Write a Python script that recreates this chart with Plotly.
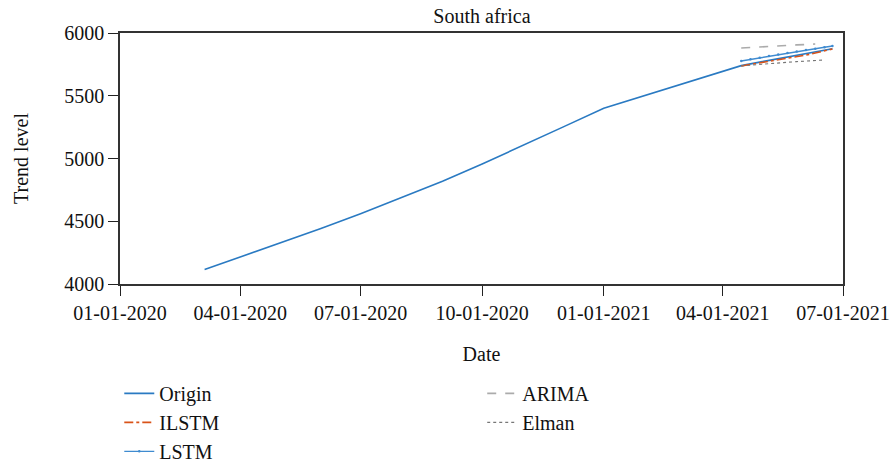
import plotly.graph_objects as go

# ---- data ----
origin_dates = ["2020-03-05", "2020-04-01", "2020-05-01", "2020-06-01", "2020-07-01",
                "2020-08-01", "2020-09-01", "2020-10-01", "2020-11-01", "2020-12-01",
                "2021-01-01", "2021-02-01", "2021-03-01", "2021-04-01", "2021-04-15",
                "2021-05-01", "2021-06-01", "2021-06-23"]
origin_values = [4115, 4215, 4321, 4442, 4560, 4688, 4818, 4956, 5103, 5250,
                 5400, 5501, 5594, 5695, 5740, 5772, 5835, 5875]

fc_dates = ["2021-04-15", "2021-04-22", "2021-04-29", "2021-05-06", "2021-05-13",
            "2021-05-20", "2021-05-27", "2021-06-03", "2021-06-10", "2021-06-17",
            "2021-06-23"]
ilstm_values = [5737, 5749, 5761, 5773, 5785, 5797, 5810, 5824, 5840, 5857, 5873]
lstm_values = [5777, 5790, 5803, 5816, 5829, 5841, 5853, 5864, 5875, 5886, 5896]
arima_values = [5880, 5885, 5889, 5893, 5897, 5901, 5905, 5908, 5912]
elman_values = [5737, 5744, 5750, 5756, 5762, 5767, 5772, 5777, 5781, 5785]

tick_dates = ["2020-01-01", "2020-04-01", "2020-07-01", "2020-10-01",
              "2021-01-01", "2021-04-01", "2021-07-01"]
tick_labels = ["01-01-2020", "04-01-2020", "07-01-2020", "10-01-2020",
               "01-01-2021", "04-01-2021", "07-01-2021"]
y_ticks = [4000, 4500, 5000, 5500, 6000]

FONT = "Liberation Serif"

fig = go.Figure()
fig.add_trace(go.Scatter(x=origin_dates, y=origin_values, name="Origin", mode="lines",
                         line=dict(color="#2A7AC2", width=1.6), legend="legend"))
fig.add_trace(go.Scatter(x=fc_dates[:len(ilstm_values)], y=ilstm_values, name="ILSTM",
                         mode="lines", line=dict(color="#D95319", width=1.6, dash="dashdot"),
                         legend="legend"))
fig.add_trace(go.Scatter(x=fc_dates[:len(lstm_values)], y=lstm_values, name="LSTM",
                         mode="lines+markers", marker=dict(size=2.5, color="#3F8BD0"),
                         line=dict(color="#3F8BD0", width=1.4), legend="legend"))
fig.add_trace(go.Scatter(x=fc_dates[:len(arima_values)], y=arima_values, name="ARIMA",
                         mode="lines", line=dict(color="#ABABAB", width=1.6, dash="dash"),
                         legend="legend2"))
fig.add_trace(go.Scatter(x=fc_dates[:len(elman_values)], y=elman_values, name="Elman",
                         mode="lines", line=dict(color="#777777", width=1.1, dash="dot"),
                         legend="legend2"))

fig.update_layout(
    width=895, height=468,
    margin=dict(l=120, r=52, t=33, b=184, autoexpand=False),
    paper_bgcolor="white", plot_bgcolor="white",
    font=dict(family=FONT, size=20, color="#111111"),
    title=dict(text="South africa", x=0.5385, xanchor="center", y=0.966, yanchor="middle",
               font=dict(family=FONT, size=20, color="#111111")),
    xaxis=dict(type="date", range=["2020-01-01", "2021-07-01"],
               tickvals=tick_dates, ticktext=tick_labels, automargin=False,
               ticks="outside", ticklen=10, tickcolor="#222", tickwidth=1,
               showline=True, linecolor="#333", linewidth=1.5, mirror=True,
               showgrid=False, zeroline=False,
               tickfont=dict(family=FONT, size=20),
               title=dict(text="Date", standoff=24, font=dict(family=FONT, size=20))),
    yaxis=dict(range=[4000, 6000], tickvals=y_ticks, automargin=False,
               ticks="outside", ticklen=10, tickcolor="#222", tickwidth=1,
               showline=True, linecolor="#333", linewidth=1.5, mirror=True,
               showgrid=False, zeroline=False,
               tickfont=dict(family=FONT, size=20),
               title=dict(text="Trend level", standoff=30, font=dict(family=FONT, size=20))),
    legend=dict(x=-0.001, xanchor="left", y=-0.358, yanchor="top",
                bgcolor="rgba(0,0,0,0)", font=dict(family=FONT, size=20)),
    legend2=dict(x=0.501, xanchor="left", y=-0.358, yanchor="top",
                 bgcolor="rgba(0,0,0,0)", font=dict(family=FONT, size=20)),
    showlegend=True,
)

fig.write_html("out.html", config={"displayModeBar": False},
               post_script="document.body.style.margin='0';document.body.style.overflow='hidden';")
